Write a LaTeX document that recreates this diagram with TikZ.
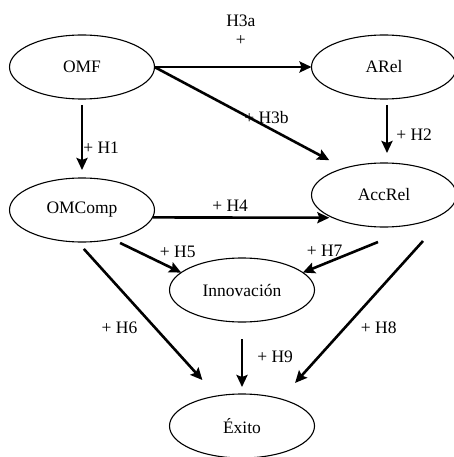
\documentclass[tikz,border=0pt]{standalone}
\usepackage{fontspec}
\setmainfont{Liberation Serif}
\usetikzlibrary{arrows.meta}
\usetikzlibrary{shapes.geometric}
\tikzset{
every node/.style={font=\fontsize{17.5}{19}\selectfont},
construct/.style={ % Sets the properties for each construct
ellipse, draw,
line width=1.1pt,
minimum width=145pt, minimum height=64pt,
inner sep=0pt, outer sep=0pt},
hyp/.style={inner sep=0pt, align=center}, % Hypothesis labels
every edge/.style={ % Sets the properties for each path
draw,
-{Stealth[length=12pt,width=11pt,inset=2pt]},
line width=2.6pt}}

\begin{document}
\begin{tikzpicture}[x=1pt,y=-1pt]
\useasboundingbox (0,0) rectangle (454,457);
\node[construct] (OMF) at (82,67) {OMF};
\node[construct] (ARel) at (384,67) {ARel};
\node[construct] (OMComp) at (82,210) {OMComp};
\node[construct] (AccRel) at (384,195) {AccRel};
\node[construct] (Innovacion) at (242,290) {Innovación};
\node[construct] (Exito) at (242,426) {Éxito};
\draw (OMF.east) edge node[hyp, pos=0.55, yshift=37pt]{H3a\\+} (ARel.west);
\draw (OMF.east) edge[shorten >=17pt] node[hyp, pos=0.59, yshift=9pt]{+ H3b} (AccRel.146);
\draw (OMF.south) edge[shorten <=6pt, shorten >=8pt] node[hyp, pos=0.62, anchor=west]{+ H1} (OMComp.north);
\draw ([xshift=3pt]ARel.south) edge[shorten <=6pt, shorten >=10pt] node[hyp, pos=0.56, anchor=west, xshift=8pt]{+ H2} ([xshift=3pt]AccRel.north);
\draw (OMComp.-6.5) edge[shorten >=3.6pt] node[hyp, pos=0.43, anchor=south, yshift=5pt]{+ H4} (AccRel.204.5);
\draw (OMComp.-44) edge[shorten <=8.8pt] node[hyp, pos=0.95, yshift=19pt]{+ H5} (Innovacion.164);
\draw ([xshift=-6pt,yshift=-15pt]AccRel.south) edge node[hyp, pos=0.71, yshift=12.6pt]{+ H7} (Innovacion.16);
\draw (OMComp.-98) edge[shorten <=9.4pt, shorten >=21.5pt] node[hyp, pos=0.56, xshift=-36pt]{+ H6} (Exito.130);
\draw ([xshift=39pt,yshift=-14pt]AccRel.south) edge[shorten >=21.5pt] node[hyp, pos=0.55, xshift=34pt]{+ H8} (Exito.35);
\draw (Innovacion.south) edge[shorten <=17pt, shorten >=7pt] node[hyp, pos=0.49, anchor=west, xshift=14pt]{+ H9} (Exito.north);
\end{tikzpicture}
\end{document}
